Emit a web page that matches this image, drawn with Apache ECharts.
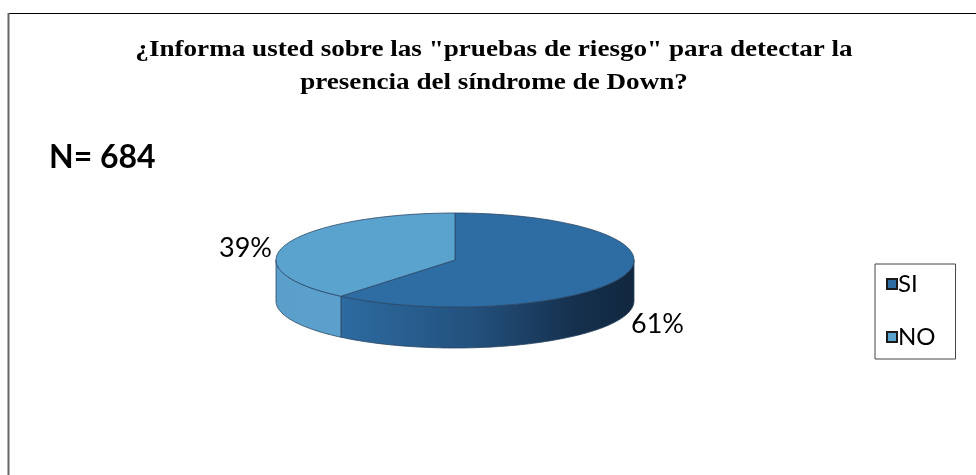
<!DOCTYPE html>
<html>
<head>
<meta charset="utf-8">
<script src="https://cdn.jsdelivr.net/npm/echarts@6/dist/echarts.min.js"></script>
<style>
  html, body { margin: 0; padding: 0; background: #fff; }
  #chart { width: 976px; height: 475px; }
</style>
</head>
<body>
<div id="chart"></div>
<script>
// Survey answers and their shares (percent)
const categories = ['SI', 'NO'];
const shares = [61, 39];
const sampleLabel = 'N= 684';
const titleLines = [
  '¿Informa usted sobre las "pruebas de riesgo" para detectar la',
  'presencia del síndrome de Down?'
];

// Palette: top face, side wall gradient stops
const topColors = ['#2E6DA4', '#5BA3CF'];
const wallStops = [
  [[0, '#2D6BA1'], [0.45, '#23517D'], [0.8, '#15304D'], [1, '#11273E']],
  [[0, '#5A9ECA'], [1, '#5CA1CD']]
];

// Ellipse geometry of the tilted disc
const geo = { cx: 455, cy: 260, rx: 179, ry: 47, depth: 41 };
// Label anchor per slice: [dx, dy, align] relative to the disc centre
const labelPlace = [[geo.rx - 3, 64, 'left'], [-geo.rx - 4, -12, 'right']];

const total = shares.reduce((a, b) => a + b, 0);
const starts = [];
let acc = 0;
shares.forEach(v => { starts.push(acc / total); acc += v; });

// point on the ellipse at fraction f, clockwise from 12 o'clock
function pt(f, dy) {
  const t = 2 * Math.PI * f;
  return [geo.cx + geo.rx * Math.sin(t), geo.cy - geo.ry * Math.cos(t) + (dy || 0)];
}
function arc(f0, f1, dy) {
  const pts = [];
  const n = Math.max(2, Math.ceil((f1 - f0) * 240));
  for (let i = 0; i <= n; i++) pts.push(pt(f0 + (f1 - f0) * i / n, dy));
  return pts;
}

function makeRender(idx) {
  return function (params, api) {
    const value = api.value(0);
    const f0 = starts[idx];
    const f1 = f0 + value / total;
    const children = [];
    const edge = { stroke: '#2A4664', lineWidth: 0.8 };

    // visible front wall: the part of the slice between 3 and 9 o'clock
    const a = Math.max(f0, 0.25), b = Math.min(f1, 0.75);
    if (b > a) {
      const topArc = arc(a, b, 0);
      const botArc = arc(a, b, geo.depth).reverse();
      children.push({
        type: 'polygon',
        shape: { points: topArc.concat(botArc) },
        style: Object.assign({
          fill: new echarts.graphic.LinearGradient(0, 0, 1, 0,
            wallStops[idx].map(s => ({ offset: s[0], color: s[1] })))
        }, edge),
        z2: 1
      });
    }

    // top face
    const topPts = [[geo.cx, geo.cy]].concat(arc(f0, f1, 0));
    children.push({
      type: 'polygon',
      shape: { points: topPts },
      style: Object.assign({ fill: topColors[idx] }, edge),
      z2: 2
    });

    // percentage label
    const lp = labelPlace[idx];
    children.push({
      type: 'text',
      x: geo.cx + lp[0],
      y: geo.cy + lp[1],
      style: {
        text: value + '%',
        fill: '#000',
        font: '27px "Lato", "Open Sans", sans-serif',
        align: lp[2],
        verticalAlign: 'middle'
      },
      z2: 3
    });
    return { type: 'group', children: children };
  };
}

const chart = echarts.init(document.getElementById('chart'), null, { renderer: 'canvas' });

const titleFont = 'bold 24px "Liberation Serif", serif';

chart.setOption({
  backgroundColor: '#fff',
  animation: false,
  legend: {
    orient: 'vertical',
    left: 875,
    top: 264,
    width: 77,
    padding: [8, 20, 10, 11],
    itemGap: 29,
    itemWidth: 10,
    itemHeight: 10,
    icon: 'rect',
    borderColor: '#444',
    borderWidth: 1,
    data: categories,
    textStyle: { fontSize: 24, color: '#000', fontFamily: 'Lato, "Open Sans", sans-serif', padding: [0, 0, 0, -4] },
    selectedMode: false
  },
  graphic: [
    { type: 'line', shape: { x1: 8, y1: 13.5, x2: 976, y2: 13.5 }, style: { stroke: '#000', lineWidth: 1 } },
    { type: 'line', shape: { x1: 8.5, y1: 13, x2: 8.5, y2: 475 }, style: { stroke: '#666', lineWidth: 2 } },
    {
      type: 'text', x: 494, y: 50, scaleX: 1.13,
      style: { text: titleLines[0], font: titleFont, fill: '#000', align: 'center', verticalAlign: 'middle' }
    },
    {
      type: 'text', x: 494, y: 83, scaleX: 1.13,
      style: { text: titleLines[1], font: titleFont, fill: '#000', align: 'center', verticalAlign: 'middle' }
    },
    {
      type: 'text', x: 49, y: 158,
      style: { text: sampleLabel, font: 'bold 32px "Lato", "Open Sans", sans-serif', fill: '#000', align: 'left', verticalAlign: 'middle' }
    }
  ],
  series: categories.map((name, i) => ({
    type: 'custom',
    name: name,
    coordinateSystem: 'none',
    itemStyle: { color: topColors[i], borderColor: '#1A1A1A', borderWidth: 1.2 },
    renderItem: makeRender(i),
    data: [[shares[i]]],
    silent: true
  }))
});
</script>
</body>
</html>
